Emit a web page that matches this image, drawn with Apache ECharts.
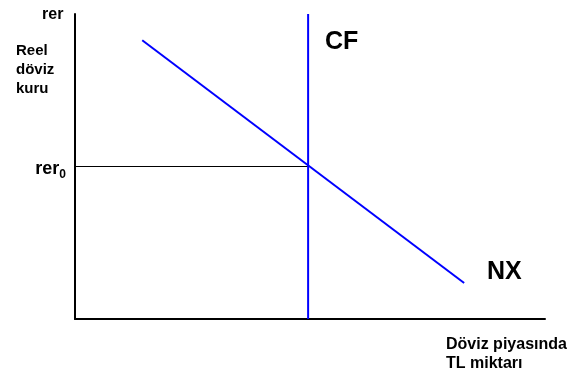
<!DOCTYPE html>
<html>
<head>
<meta charset="utf-8">
<script src="https://cdn.jsdelivr.net/npm/echarts@6/dist/echarts.min.js"></script>
<style>
  html, body { margin: 0; padding: 0; background: #fff; }
  #chart { width: 571px; height: 371px; }
</style>
</head>
<body>
<div id="chart"></div>
<script>
// curve points, in axis units (0..100)
var cfLine = [[49.6, 0], [49.6, 100]];
var nxLine = [[14.3, 91.4], [82.8, 11.8]];
var rerLevel = 50;
var rerGuide = [[0, rerLevel], [49.6, rerLevel]];

var font = 'Arial, "Liberation Sans", sans-serif';

var myChart = echarts.init(document.getElementById('chart'));
var option = {
    animation: false,
    backgroundColor: '#fff',
    grid: {
        left: 75,
        right: 26,
        top: 14,
        bottom: 52
    },
    xAxis: {
        type: 'value',
        min: 0,
        max: 100,
        axisLine: { show: true, lineStyle: { color: '#000', width: 2 } },
        axisTick: { show: false },
        axisLabel: { show: false },
        splitLine: { show: false }
    },
    yAxis: {
        type: 'value',
        min: 0,
        max: 100,
        interval: rerLevel,
        axisLine: { show: true, lineStyle: { color: '#000', width: 2 } },
        axisTick: { show: false },
        splitLine: { show: false },
        axisLabel: {
            margin: 9,
            padding: [5, 0, 0, 0],
            formatter: function (v) {
                return v === rerLevel ? '{a|rer}{b|0}' : '';
            },
            rich: {
                a: { fontFamily: font, fontWeight: 'bold', fontSize: 18, color: '#000' },
                b: { fontFamily: font, fontWeight: 'bold', fontSize: 12, color: '#000', padding: [11, 0, 0, 0] }
            }
        }
    },
    graphic: [
        { type: 'text', left: 42, top: 7, style: { text: 'rer', font: 'bold 16px ' + font, fill: '#000' } },
        { type: 'text', left: 16, top: 41, style: { text: 'Reel\ndöviz\nkuru', font: 'bold 15px ' + font, lineHeight: 19, fill: '#000' } },
        { type: 'text', left: 325, top: 30, style: { text: 'CF', font: 'bold 25px ' + font, fill: '#000' } },
        { type: 'text', left: 487, top: 260, style: { text: 'NX', font: 'bold 25px ' + font, fill: '#000' } },
        { type: 'text', left: 446, top: 335, style: { text: 'Döviz piyasında\nTL miktarı', font: 'bold 16px ' + font, lineHeight: 19, fill: '#000' } }
    ],
    series: [
        {
            name: 'rer0',
            type: 'line',
            data: rerGuide,
            symbol: 'none',
            lineStyle: { color: '#000', width: 1 }
        },
        {
            name: 'CF',
            type: 'line',
            data: cfLine,
            symbol: 'none',
            lineStyle: { color: '#0000ff', width: 2 }
        },
        {
            name: 'NX',
            type: 'line',
            data: nxLine,
            symbol: 'none',
            lineStyle: { color: '#0000ff', width: 2 }
        }
    ]
};
myChart.setOption(option);
</script>
</body>
</html>
